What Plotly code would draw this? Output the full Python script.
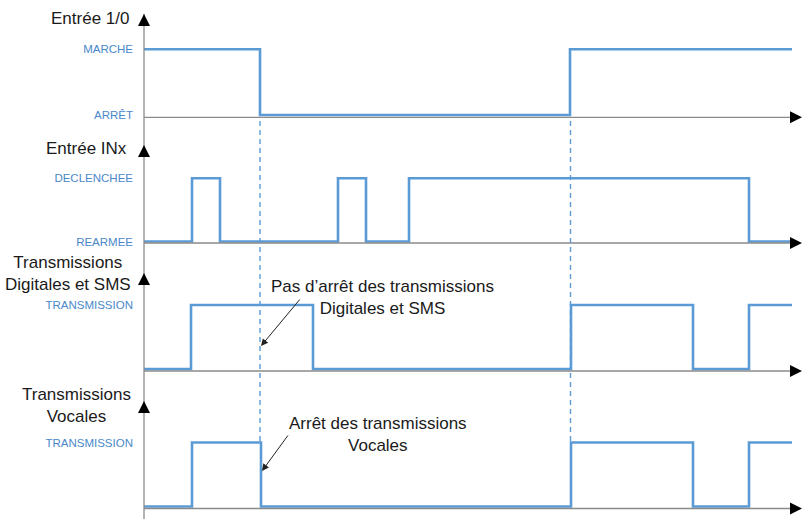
import plotly.graph_objects as go

# ---------------- data (time in arbitrary units, levels 0/1) ----------------
t_entree = [0, 116, 426, 648]
v_entree = [1, 0, 1, 1]

t_inx = [0, 48, 76, 194, 222, 265, 605, 647]
v_inx = [0, 1, 0, 1, 0, 1, 0, 0]

t_digit = [0, 47, 169, 427, 549, 605, 648]
v_digit = [0, 1, 0, 1, 0, 1, 1]

t_vocal = [0, 48, 117, 427, 549, 605, 648]
v_vocal = [0, 1, 0, 1, 0, 1, 1]

events = [116, 426.5]

panel_titles = ["Entrée 1/0", "Entrée INx",
                "Transmissions<br>Digitales et SMS", "Transmissions<br>Vocales"]
tick_text = [["ARRÊT", "MARCHE"], ["REARMEE", "DECLENCHEE"],
             ["", "TRANSMISSION"], ["", "TRANSMISSION"]]

annot_digit = "Pas d’arrêt des transmissions<br>Digitales et SMS"
annot_vocal = "Arrêt des transmissions<br>Vocales"

# ---------------- layout helpers ----------------
W, H = 803, 519
X0 = 144  # pixel of the vertical axis
BLUE = "#5b9bd5"
LBLUE = "#4a88c9"
GRAY = "#8a8a8a"
FONT = "Liberation Sans, Arial, sans-serif"


def px(x):
    return x / W


def py(y):
    return 1 - y / H


def yrange(p_low, p_high):
    s = p_low - p_high
    rmax = p_low / s
    return [rmax - H / s, rmax]


# per panel: (pixel of level 0, pixel of level 1, baseline pixel, arrow tip pixel, title right, title center y)
panels = [
    (115.0, 49.3, 117.3, 14, 131, 18.5),
    (241.5, 178.3, 243.0, 145, 129, 149),
    (369.0, 305.0, 371.0, 273, 133, 273.5),
    (506.5, 442.5, 508.5, 401, 133, 405),
]
series = [(t_entree, v_entree), (t_inx, v_inx), (t_digit, v_digit), (t_vocal, v_vocal)]

fig = go.Figure()
layout = dict(
    width=W, height=H, margin=dict(l=0, r=0, t=0, b=0),
    paper_bgcolor="white", plot_bgcolor="white", showlegend=False,
    xaxis=dict(domain=[px(X0), 1], range=[0, W - X0], visible=False, fixedrange=True),
)

shapes = []
annotations = []

# vertical axis line
shapes.append(dict(type="line", xref="paper", yref="paper", x0=px(X0), x1=px(X0),
                   y0=0, y1=py(14), line=dict(color=GRAY, width=1.3)))

for i, ((t, v), (p0, p1, base, tip, tr, tc)) in enumerate(zip(series, panels)):
    yname = "y" if i == 0 else f"y{i+1}"
    lname = "yaxis" if i == 0 else f"yaxis{i+1}"
    fig.add_trace(go.Scatter(x=t, y=v, mode="lines", line=dict(color=BLUE, width=2.6, shape="hv"),
                             xaxis="x", yaxis=yname, hoverinfo="skip"))
    ax = dict(domain=[0, 1], range=yrange(p0, p1), anchor="x",
              tickvals=[0, 1], ticktext=tick_text[i], ticks="", showgrid=False,
              zeroline=False, showline=False, automargin=False, fixedrange=True,
              tickfont=dict(family=FONT, size=11.5, color=LBLUE), ticklabelstandoff=10)
    if i > 0:
        ax["overlaying"] = "y"
    layout[lname] = ax

    # horizontal baseline + arrowhead
    shapes.append(dict(type="line", xref="paper", yref="paper", x0=px(X0), x1=px(798),
                       y0=py(base), y1=py(base), line=dict(color=GRAY, width=1.3)))
    annotations.append(dict(xref="paper", yref="paper", x=px(803), y=py(base), ax=-11, ay=0,
                            text="", showarrow=True, arrowhead=2, arrowsize=1.6,
                            arrowwidth=1.5, arrowcolor="black", standoff=0))
    # vertical arrowhead
    annotations.append(dict(xref="paper", yref="paper", x=px(X0), y=py(tip), ax=0, ay=11,
                            text="", showarrow=True, arrowhead=2, arrowsize=1.6,
                            arrowwidth=1.5, arrowcolor="black", standoff=0))
    # panel title
    annotations.append(dict(xref="paper", yref="paper", x=px(tr), y=py(tc),
                            xanchor="right", yanchor="middle", align="center",
                            text=panel_titles[i], showarrow=False,
                            font=dict(family=FONT, size=17, color="#1a1a1a")))

# dashed event lines
for e in events:
    shapes.append(dict(type="line", xref="x", yref="paper", x0=e, x1=e,
                       y0=py(441), y1=py(119),
                       line=dict(color=BLUE, width=1.4, dash="5px,4px")))

# callouts
annotations.append(dict(xref="paper", yref="paper", x=px(382), y=py(297),
                        xanchor="center", yanchor="middle", align="center",
                        text=annot_digit, showarrow=False,
                        font=dict(family=FONT, size=17, color="#1a1a1a")))
annotations.append(dict(xref="paper", yref="paper", x=px(261), y=py(346), ax=40, ay=-48,
                        text="", showarrow=True, arrowhead=2, arrowsize=1.4,
                        arrowwidth=1, arrowcolor="#222222", standoff=0))
annotations.append(dict(xref="paper", yref="paper", x=px(378), y=py(434),
                        xanchor="center", yanchor="middle", align="center",
                        text=annot_vocal, showarrow=False,
                        font=dict(family=FONT, size=17, color="#1a1a1a")))
annotations.append(dict(xref="paper", yref="paper", x=px(262), y=py(471), ax=27, ay=-37,
                        text="", showarrow=True, arrowhead=2, arrowsize=1.4,
                        arrowwidth=1, arrowcolor="#222222", standoff=0))

layout["shapes"] = shapes
layout["annotations"] = annotations
fig.update_layout(**layout)
fig.write_html("out.html", config={"displayModeBar": False, "staticPlot": True},
               post_script="document.body.style.margin='0';document.body.style.overflow='hidden';")
